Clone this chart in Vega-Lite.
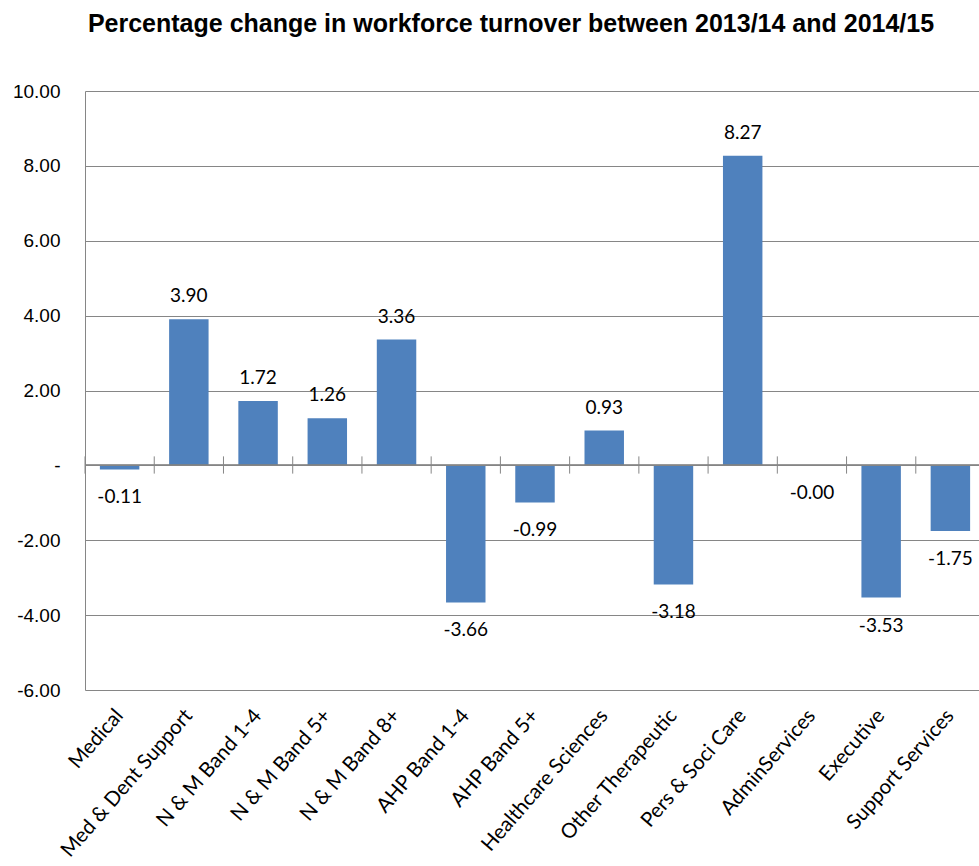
{
  "$schema": "https://vega.github.io/schema/vega-lite/v6.json",
  "autosize": {"type": "none"},
  "width": 894,
  "height": 599,
  "padding": {"left": 85, "top": 91, "right": 0, "bottom": 176},
  "background": "white",
  "config": {"view": {"stroke": null}},
  "title": {
    "text": "Percentage change in workforce turnover between 2013/14 and 2014/15",
    "font": "Liberation Sans",
    "fontSize": 25,
    "fontWeight": "bold",
    "color": "black",
    "anchor": "middle",
    "frame": "group",
    "dx": -21,
    "offset": 45
  },
  "data": {
    "values": [
      {"cat": "Medical", "value": -0.11, "label": "-0.11"},
      {"cat": "Med & Dent Support", "value": 3.90, "label": "3.90"},
      {"cat": "N & M Band 1-4", "value": 1.72, "label": "1.72"},
      {"cat": "N & M Band 5+", "value": 1.26, "label": "1.26"},
      {"cat": "N & M Band 8+", "value": 3.36, "label": "3.36"},
      {"cat": "AHP Band 1-4", "value": -3.66, "label": "-3.66"},
      {"cat": "AHP Band 5+", "value": -0.99, "label": "-0.99"},
      {"cat": "Healthcare Sciences", "value": 0.93, "label": "0.93"},
      {"cat": "Other Therapeutic", "value": -3.18, "label": "-3.18"},
      {"cat": "Pers & Soci Care", "value": 8.27, "label": "8.27"},
      {"cat": "AdminServices", "value": -0.003, "label": "-0.00"},
      {"cat": "Executive", "value": -3.53, "label": "-3.53"},
      {"cat": "Support Services", "value": -1.75, "label": "-1.75"}
    ]
  },
  "layer": [
    {
      "mark": {"type": "bar", "color": "#4F81BD"},
      "encoding": {
        "x": {
          "field": "cat",
          "type": "nominal",
          "sort": null,
          "scale": {"range": [0, 900], "paddingInner": 0.43, "paddingOuter": 0.215},
          "axis": {
            "title": null,
            "domain": false,
            "ticks": false,
            "tickSize": 0,
            "grid": false,
            "labelAngle": -49,
            "labelAlign": "right",
            "labelBaseline": "middle",
            "labelPadding": 22,
            "labelFont": "Lato",
            "labelFontSize": 20.5,
            "labelColor": "black",
            "labelOverlap": false,
            "labelLimit": 300
          }
        },
        "y": {
          "field": "value",
          "type": "quantitative",
          "scale": {"domain": [-6, 10], "nice": false, "zero": false},
          "axis": {
            "title": null,
            "values": [-6, -4, -2, 0, 2, 4, 6, 8, 10],
            "grid": true,
            "gridColor": "#868686",
            "gridWidth": 1,
            "domain": true,
            "domainColor": "#868686",
            "ticks": false,
            "tickSize": 0,
            "labelPadding": 25,
            "labelFont": "Liberation Sans",
            "labelFontSize": 19,
            "labelColor": "black",
            "labelExpr": "datum.value == 0 ? '-' : (datum.value < 0 ? '-' + format(-datum.value, '.2f') : format(datum.value, '.2f'))"
          }
        }
      }
    },
    {
      "mark": {"type": "rule", "color": "#868686", "strokeWidth": 1},
      "encoding": {"y": {"datum": 0}}
    },
    {
      "mark": {"type": "rule", "color": "#868686", "strokeWidth": 1, "xOffset": -34.6},
      "encoding": {
        "x": {"field": "cat", "type": "nominal", "sort": null},
        "y": {"datum": 0.24},
        "y2": {"datum": -0.22}
      }
    },
    {
      "transform": [{"filter": "datum.value >= 0"}],
      "mark": {"type": "text", "baseline": "alphabetic", "dy": -17, "font": "Lato", "fontSize": 19, "color": "black"},
      "encoding": {
        "x": {"field": "cat", "type": "nominal", "sort": null},
        "y": {"field": "value", "type": "quantitative"},
        "text": {"field": "label"}
      }
    },
    {
      "transform": [{"filter": "datum.value < 0"}],
      "mark": {"type": "text", "baseline": "top", "dy": 19, "font": "Lato", "fontSize": 19, "color": "black"},
      "encoding": {
        "x": {"field": "cat", "type": "nominal", "sort": null},
        "y": {"field": "value", "type": "quantitative"},
        "text": {"field": "label"}
      }
    }
  ]
}
